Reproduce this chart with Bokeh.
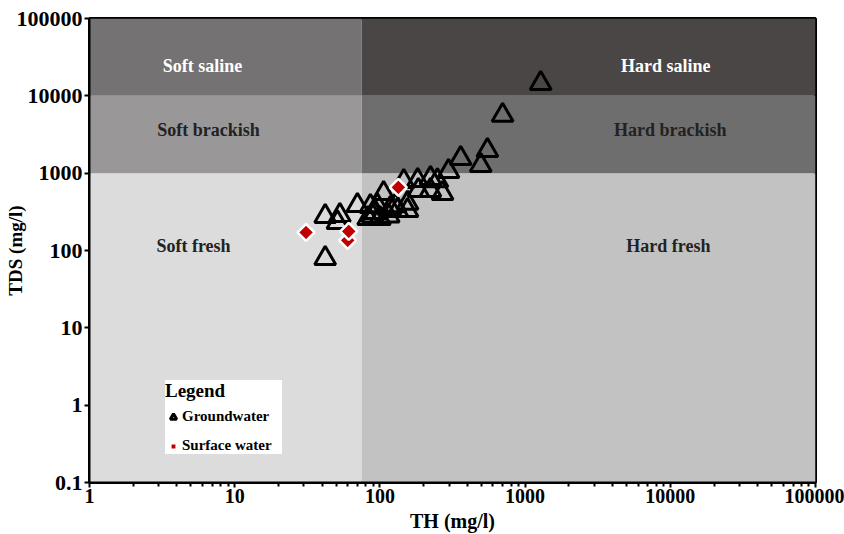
import numpy as np
from bokeh.plotting import figure
from bokeh.models import FixedTicker, Label, Legend, LegendItem
from bokeh.embed import file_html
from bokeh.resources import INLINE

# Total hardness (TH) and total dissolved solids (TDS), mg/l
gw_th = [1280, 700, 550, 495, 360, 297, 270, 223, 182, 146, 106, 70, 155, 53, 42, 51, 42,
         86, 96, 118, 132, 155, 89, 100, 115, 83, 128, 93, 184, 223, 249]
gw_tds = [14500, 5600, 1970, 1260, 1550, 1055, 548, 857, 807, 783, 548, 383, 409, 284, 276,
          230, 79, 372, 380, 350, 330, 330, 280, 260, 280, 260, 380, 310, 598, 598, 800]

sw_th = [60, 31, 61, 134]
sw_tds = [135, 171, 177, 655]

# Classification thresholds
th_soft_hard = 75
tds_limits = [0.1, 1000, 10000, 100000]
th_limits = [1, th_soft_hard, 100000]

x_ticks = [1, 10, 100, 1000, 10000, 100000]
y_ticks = [0.1, 1, 10, 100, 1000, 10000, 100000]

zone_colors = {
    ("soft", 0): "#dcdcdc", ("hard", 0): "#c2c2c2",
    ("soft", 1): "#999797", ("hard", 1): "#6f6e6e",
    ("soft", 2): "#747272", ("hard", 2): "#4a4646",
}

SERIF = "Liberation Serif"

p = figure(width=844, height=534, x_axis_type="log", y_axis_type="log",
           x_range=(1, 100000), y_range=(0.1, 100000),
           output_backend="svg", toolbar_location=None,
           min_border_left=89, min_border_right=29, min_border_top=18,
           min_border_bottom=52)

# Shaded classification zones
left, right, bottom, top, colors = [], [], [], [], []
for i, kind in enumerate(["soft", "hard"]):
    for j in range(3):
        left.append(th_limits[i]); right.append(th_limits[i + 1])
        bottom.append(tds_limits[j]); top.append(tds_limits[j + 1])
        colors.append(zone_colors[(kind, j)])
p.quad(left=left, right=right, bottom=bottom, top=top, fill_color=colors,
       line_color=None)

# Zone names
zone_labels = [
    ("Soft saline", 6.0, 24500, "white"),
    ("Hard saline", 9300, 24500, "white"),
    ("Soft brackish", 6.6, 3600, "#222222"),
    ("Hard brackish", 10000, 3600, "#222222"),
    ("Soft fresh", 5.2, 116, "#222222"),
    ("Hard fresh", 9700, 116, "#222222"),
]
for txt, xx, yy, col in zone_labels:
    p.add_layout(Label(x=xx, y=yy, text=txt, text_align="center",
                       text_baseline="middle", text_font=SERIF,
                       text_font_style="bold", text_font_size="18px",
                       text_color=col))

gw = p.scatter(x=gw_th, y=gw_tds, marker="triangle", size=21,
               fill_color=None, line_color="black", line_width=3)
sw = p.scatter(x=sw_th, y=sw_tds, marker="square", angle=np.pi / 4, size=12,
               fill_color="#c00000", line_color="white", line_width=2.5)

# Axes
p.xaxis.ticker = FixedTicker(ticks=x_ticks,
                             minor_ticks=[m * 10 ** k for k in range(5) for m in range(2, 10)])
p.yaxis.ticker = FixedTicker(ticks=y_ticks)
p.xaxis.major_label_overrides = {t: f"{t:g}" for t in x_ticks}
p.yaxis.major_label_overrides = {t: (f"{t:g}" if t >= 1 else "0.1") for t in y_ticks}
p.xaxis.axis_label = "TH (mg/l)"
p.yaxis.axis_label = "TDS (mg/l)"
for ax in (p.xaxis, p.yaxis):
    ax.axis_line_color = "black"
    ax.axis_line_width = 2
    ax.major_tick_line_color = "black"
    ax.major_tick_line_width = 2
    ax.major_tick_in = 0
    ax.major_tick_out = 5
    ax.minor_tick_in = 0
    ax.minor_tick_out = 4
    ax.minor_tick_line_color = "black"
    ax.minor_tick_line_width = 2
    ax.major_label_text_font = SERIF
    ax.major_label_text_font_style = "bold"
    ax.major_label_text_color = "black"
    ax.axis_label_text_font = SERIF
    ax.axis_label_text_font_style = "bold"
    ax.axis_label_text_color = "black"
p.xaxis.major_label_text_font_size = "20px"
p.yaxis.major_label_text_font_size = "22px"
p.xaxis.axis_label_text_font_size = "20px"
p.yaxis.axis_label_text_font_size = "19px"
p.yaxis.minor_tick_line_color = None
p.yaxis.major_label_standoff = 2
p.yaxis.axis_label_standoff = -12
p.xaxis.major_label_standoff = 1
p.xaxis.axis_label_standoff = 4

p.xgrid.grid_line_color = None
p.ygrid.grid_line_color = None
p.outline_line_color = "black"
p.outline_line_width = 3
p.background_fill_color = "white"

legend = Legend(items=[LegendItem(label="Groundwater", renderers=[gw]),
                       LegendItem(label="Surface water", renderers=[sw])],
                title="Legend", location=(76, 28),
                title_text_font=SERIF, title_text_font_style="bold",
                title_text_font_size="19px", title_text_color="black",
                label_text_font=SERIF, label_text_font_style="bold",
                label_text_font_size="15px", label_text_color="black",
                glyph_width=16, glyph_height=16, label_standoff=1,
                label_width=100, padding=4, spacing=12, margin=0,
                title_standoff=6, border_line_color=None,
                background_fill_color="white", background_fill_alpha=1.0)
p.add_layout(legend)

open("out.html", "w").write(file_html(p, INLINE))
